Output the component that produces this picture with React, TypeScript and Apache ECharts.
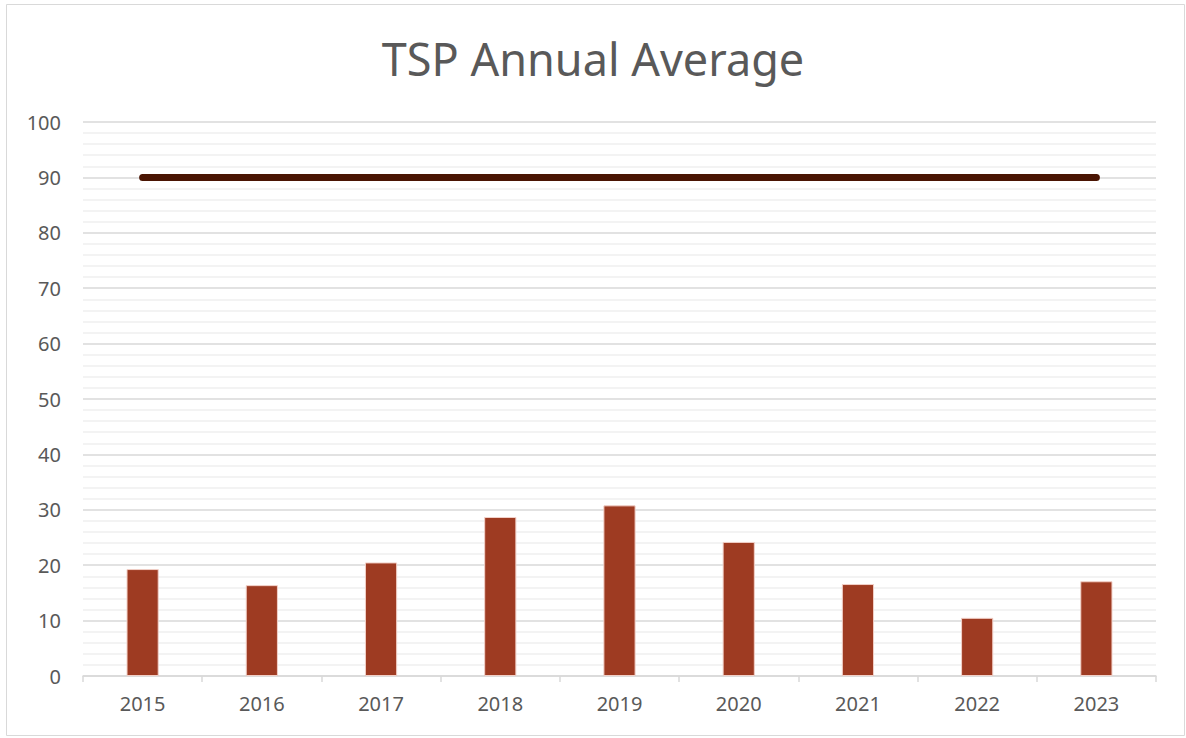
import React, { useEffect, useRef } from "react";
import * as echarts from "echarts";

const years = ["2015", "2016", "2017", "2018", "2019", "2020", "2021", "2022", "2023"];
const tspValues = [19.3, 16.4, 20.5, 28.7, 30.8, 24.2, 16.6, 10.5, 17.1];
const standardValues = [90, 90, 90, 90, 90, 90, 90, 90, 90];

export default function App() {
  const ref = useRef<HTMLDivElement>(null);
  useEffect(() => {
    if (!ref.current) return;
    const chart = echarts.init(ref.current, null, { renderer: "svg" });
    const font = "'Noto Sans', 'Open Sans', sans-serif";
    chart.setOption({
      animation: false,
      backgroundColor: "#ffffff",
      title: {
        text: "TSP Annual Average",
        left: "center",
        top: 31,
        textStyle: { color: "#595959", fontSize: 45, fontWeight: "normal", fontFamily: font },
      },
      graphic: [
        {
          type: "rect",
          shape: { x: 6.5, y: 4.5, width: 1178, height: 731 },
          style: { fill: "none", stroke: "#d9d9d9", lineWidth: 1 },
          silent: true,
        },
      ],
      grid: { left: 83, right: 30, top: 122, bottom: 62 },
      xAxis: {
        type: "category",
        data: years,
        boundaryGap: true,
        axisLine: { lineStyle: { color: "#d9d9d9", width: 1.5 } },
        axisTick: { show: true, alignWithLabel: false, length: 6, lineStyle: { color: "#d9d9d9", width: 1.5 } },
        axisLabel: { color: "#595959", fontSize: 20, fontFamily: font, margin: 17 },
      },
      yAxis: {
        type: "value",
        min: 0,
        max: 100,
        interval: 10,
        axisLine: { show: false },
        axisTick: { show: false },
        axisLabel: { color: "#595959", fontSize: 20, fontFamily: font, margin: 22 },
        splitLine: { lineStyle: { color: "#d9d9d9", width: 1.5 } },
        minorTick: { show: false, splitNumber: 5 },
        minorSplitLine: { show: true, lineStyle: { color: "#efefef", width: 1.5 } },
      },
      series: [
        {
          type: "bar",
          data: tspValues,
          barWidth: "27%",
          itemStyle: { color: "#9e3b22", borderColor: "#f2d0c8", borderWidth: 1 },
          z: 2,
        },
        {
          type: "line",
          data: standardValues,
          symbol: "none",
          lineStyle: { color: "#4a1503", width: 7, cap: "round" },
          z: 3,
        },
      ],
    });
    return () => chart.dispose();
  }, []);
  return (
    <div
      ref={ref}
      style={{ position: "absolute", left: 0, top: 0, width: 1186, height: 738 }}
    />
  );
}
